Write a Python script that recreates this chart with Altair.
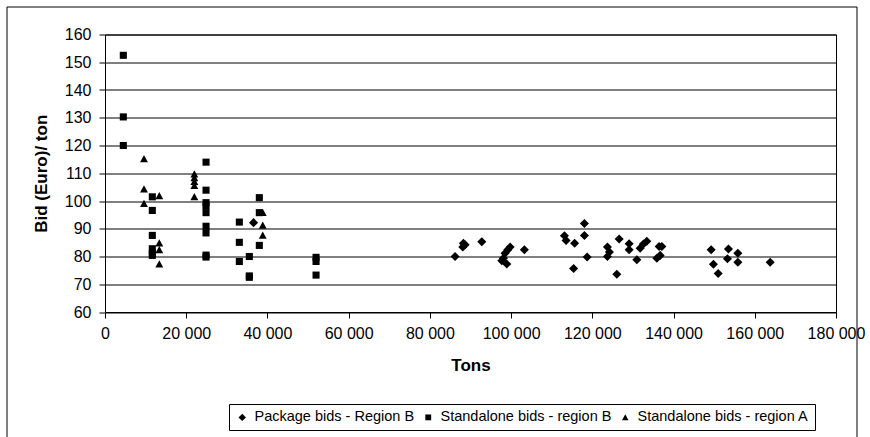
import altair as alt
import pandas as pd

# Package bids - Region B (diamonds)
pkg_x = [86200, 88250, 88670, 88100, 92780, 99750, 99180, 98520, 98100, 97710, 98940,
         103270, 113130, 113540, 115640, 115390, 118050, 118050, 118720, 123720, 124210,
         123720, 126030, 126600, 129060, 129060, 130960, 131770, 132580, 133420, 136450,
         137120, 135890, 136700, 149260, 149820, 150990, 153520, 153270, 155830, 155830,
         163790, 36580]
pkg_y = [80.0, 84.8, 84.2, 83.4, 85.3, 83.4, 82.4, 81.2, 79.4, 78.5, 77.3,
         82.4, 87.5, 85.8, 84.8, 75.7, 91.9, 87.6, 79.8, 83.4, 81.6,
         80.0, 73.6, 86.3, 84.6, 82.4, 78.8, 83.0, 84.5, 85.5, 83.6,
         83.6, 79.4, 80.4, 82.4, 77.2, 73.9, 82.7, 79.2, 81.2, 77.9,
         77.9, 92.2]

# Standalone bids - region B (squares)
sb_x = [4510, 4510, 4510,
        11650, 11650, 11650, 11650, 11650, 11650,
        24880, 24880, 24880, 24880, 24880, 24880, 24880, 24880, 24880,
        33080, 33080, 33080,
        35540, 35540, 35540,
        38000, 38000, 38000,
        51970, 51970, 51970]
sb_y = [152.5, 130.3, 120.0,
        101.5, 96.6, 87.6, 82.8, 81.2, 80.4,
        114.0, 103.9, 99.4, 98.2, 95.8, 90.9, 88.5, 80.5, 79.8,
        92.4, 85.1, 78.2,
        80.0, 73.0, 72.5,
        101.2, 95.8, 84.0,
        79.7, 78.2, 73.3]

# Standalone bids - region A (triangles)
sa_x = [9600, 9600, 9600,
        13370, 13370, 13370, 13370,
        22000, 22000, 22000, 22000, 22000,
        38840, 38840, 38840]
sa_y = [115.2, 104.3, 99.0,
        101.8, 84.8, 82.4, 77.2,
        109.7, 108.3, 107.0, 105.5, 101.5,
        95.8, 91.2, 87.6]

series_names = ["Package bids - Region B", "Standalone bids - region B", "Standalone bids - region A"]
x_ticks = [0, 20000, 40000, 60000, 80000, 100000, 120000, 140000, 160000, 180000]
y_ticks = [60, 70, 80, 90, 100, 110, 120, 130, 140, 150, 160]

rows = []
for name, xs, ys in zip(series_names, [pkg_x, sb_x, sa_x], [pkg_y, sb_y, sa_y]):
    for a, b in zip(xs, ys):
        rows.append({"Tons": a, "Bid": b, "Series": name})
df = pd.DataFrame(rows)

FONT = "Liberation Sans"
DIAMOND = "M-1.15,0L0,-1.15L1.15,0L0,1.15Z"
SQUARE = "M-0.9,-0.9L0.9,-0.9L0.9,0.9L-0.9,0.9Z"
TRIANGLE = "M0,-1L1,0.85L-1,0.85Z"

points = alt.Chart(df).mark_point(filled=True, color="black", opacity=1, size=62).encode(
    x=alt.X("Tons:Q",
            scale=alt.Scale(domain=[0, 180000], nice=False, zero=True),
            axis=alt.Axis(values=x_ticks, title="Tons", grid=False, labelOverlap=False,
                          labelFlush=False,
                          labelExpr="replace(format(datum.value, ','), ',', ' ')",
                          tickSize=6, labelPadding=7, titlePadding=16)),
    y=alt.Y("Bid:Q",
            scale=alt.Scale(domain=[60, 160], nice=False, zero=False),
            axis=alt.Axis(values=y_ticks, title="Bid (Euro)/ ton", grid=True, labelOverlap=False,
                          labelFlush=False,
                          tickSize=6, labelPadding=8, titlePadding=14)),
    shape=alt.Shape("Series:N",
                    scale=alt.Scale(domain=series_names,
                                    range=[DIAMOND, SQUARE, TRIANGLE]),
                    sort=series_names,
                    legend=alt.Legend(title=None, orient="none", legendX=124, legendY=369.5,
                                      direction="horizontal", columns=3,
                                      strokeColor="black", padding=6,
                                      symbolSize=42, symbolFillColor="black",
                                      symbolStrokeColor="black", symbolStrokeWidth=0,
                                      labelFont=FONT, labelFontSize=14.5, labelColor="black",
                                      labelLimit=400, columnPadding=6, labelOffset=5)),
)

frame = alt.Chart(pd.DataFrame({"k": [0]})).mark_rect(
    fillOpacity=0, stroke="black", strokeWidth=1
).encode(
    x=alt.value(-98), x2=alt.value(752), y=alt.value(-27.5), y2=alt.value(420)
)

chart = alt.layer(frame, points).properties(
    width=731, height=277.5,
    autosize=alt.AutoSizeParams(type="none"),
    padding={"left": 105, "top": 34.5, "right": 34, "bottom": 125},
    background="white",
).configure_view(
    stroke="black", strokeWidth=1
).configure_axis(
    labelFont=FONT, labelFontSize=16, labelColor="black",
    titleFont=FONT, titleFontSize=17, titleFontWeight="bold", titleColor="black",
    domainColor="black", tickColor="black", gridColor="black", gridWidth=1,
    domainWidth=1, tickWidth=1,
)

chart.save("out.html", embed_options={"renderer": "svg", "actions": False})
